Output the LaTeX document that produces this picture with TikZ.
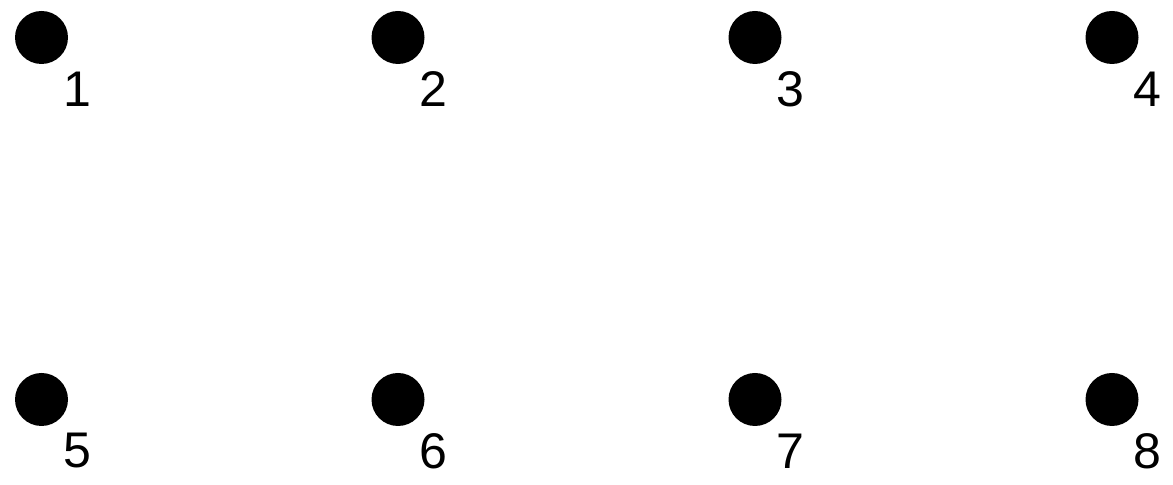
\documentclass[tikz,border=0pt]{standalone}
\usepackage{fontspec}
\setmainfont{Liberation Sans}
\usepackage{tikz}
\usetikzlibrary{positioning, calc}

\begin{document}
\begin{tikzpicture}[
  dot/.style={circle, fill=black, inner sep=0pt, minimum size=1.06cm},
  num/.style={inner sep=0pt, font=\fontsize{28.5}{34}\selectfont}
]
\useasboundingbox (0,0) rectangle (23.46,9.70);

\node[dot] (p1) at (0.83,8.95) {};
\node[dot] (p2) at (7.96,8.95) {};
\node[dot] (p3) at (15.10,8.95) {};
\node[dot] (p4) at (22.24,8.95) {};
\node[dot] (p5) at (0.83,1.71) {};
\node[dot] (p6) at (7.96,1.71) {};
\node[dot] (p7) at (15.10,1.71) {};
\node[dot] (p8) at (22.24,1.71) {};

\node[num] (l1) at ($(p1)+(0.71,-1.03)$) {1};
\node[num] (l2) at ($(p2)+(0.71,-1.03)$) {2};
\node[num] (l3) at ($(p3)+(0.71,-1.03)$) {3};
\node[num] (l4) at ($(p4)+(0.71,-1.03)$) {4};
\node[num] (l5) at ($(p5)+(0.71,-1.03)$) {5};
\node[num] (l6) at ($(p6)+(0.71,-1.03)$) {6};
\node[num] (l7) at ($(p7)+(0.71,-1.03)$) {7};
\node[num] (l8) at ($(p8)+(0.71,-1.03)$) {8};
\end{tikzpicture}
\end{document}
